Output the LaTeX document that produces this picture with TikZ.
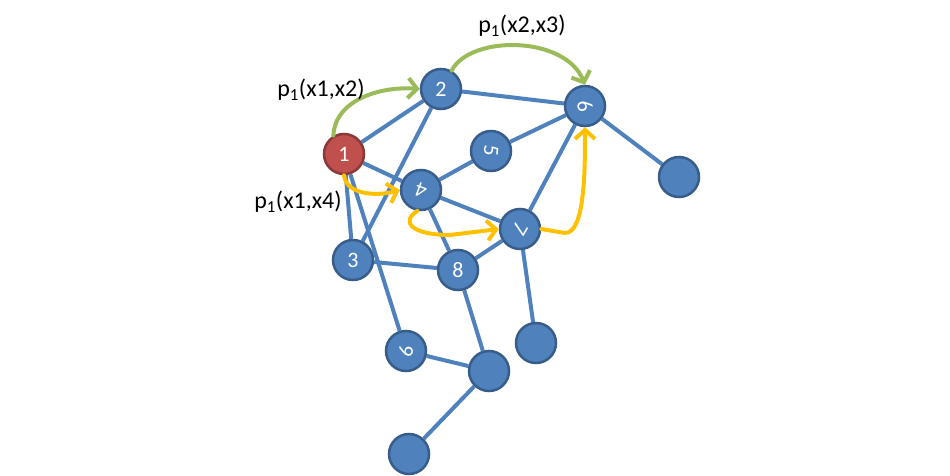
\documentclass[tikz,border=0pt]{standalone}
\usepackage{fontspec}
\setmainfont{Carlito}
\usetikzlibrary{arrows.meta,backgrounds}
\definecolor{nodeblue}{RGB}{79,129,189}
\definecolor{rimblue}{RGB}{56,93,138}
\definecolor{nodered}{RGB}{192,80,77}
\definecolor{rimred}{RGB}{140,56,54}
\definecolor{grass}{RGB}{155,187,89}
\definecolor{gold}{RGB}{255,192,0}
\tikzset{
  vertex/.style={circle,draw=rim#1,fill=node#1,line width=2.5pt,minimum size=40pt,
    inner sep=0pt,text=white,font=\fontsize{22}{22}\selectfont},
  vertex/.default=blue,
  link/.style={draw=nodeblue,line width=4pt},
  hop/.style={-{Straight Barb[length=9pt,width=20pt,line width=4pt]},line width=4pt,draw=#1,line cap=round},
  tag/.style={font=\fontsize{24}{24}\selectfont},
}
\begin{document}
\begin{tikzpicture}[x=1pt,y=-1pt]
  \useasboundingbox (0,0) rectangle (950,476);
  \node[vertex=red] (n1) at (344,154) {1};
  \node[vertex] (n2) at (441,89) {2};
  \node[vertex] (n3) at (353,260) {3};
  \node[vertex] (n4) at (421,190) {\rotatebox{160}{4}};
  \node[vertex] (n5) at (491,151) {\rotatebox{-95}{5}};
  \node[vertex] (n6) at (585,106) {\rotatebox{-75}{6}};
  \node[vertex] (n7) at (520,229) {\rotatebox{-120}{7}};
  \node[vertex] (n8) at (458,270) {8};
  \node[vertex] (n9) at (406,351) {\rotatebox{-105}{9}};
  \node[vertex] (e1) at (679,177) {};
  \node[vertex] (e2) at (536,343) {};
  \node[vertex] (e3) at (489,371) {};
  \node[vertex] (e4) at (409,454) {};
  \begin{scope}[on background layer]
    \draw[link] (n1) -- (n2) (n1) -- (n4) (n1) -- (n3) (n1) -- (n9);
    \draw[link] (n2) -- (n6) (n2) -- (n3) (n4) -- (n5) (n5) -- (n6);
    \draw[link] (n4) -- (n7) (n4) -- (n8) (n3) -- (n8) (n8) -- (n7);
    \draw[link] (n7) -- (n6) (n6) -- (e1) (n7) -- (e2) (n8) -- (e3);
    \draw[link] (n9) -- (e3) (e3) -- (e4);
  \end{scope}
  % arrows
  \draw[hop=grass] (n1.120) .. controls (335,100) and (380,86) .. (n2.west);
  \draw[hop=grass] (n2.60) .. controls (470,35) and (565,35) .. (n6.north);
  \draw[hop=gold] (n1.south) .. controls (346,194) and (375,197) .. (n4.west);
  \draw[hop=gold] (n4.260) .. controls (400,222) and (412,235) .. (450,235) -- (n7.west);
  \draw[hop=gold] (n7.east) -- (565,233) .. controls (585,233) and (585,170) .. (n6.south);
  \node[tag] (t1) at (321,90) {p\textsubscript{1}(x1,x2)};
  \node[tag] (t2) at (522,26) {p\textsubscript{1}(x2,x3)};
  \node[tag] (t3) at (298,202) {p\textsubscript{1}(x1,x4)};
\end{tikzpicture}
\end{document}
